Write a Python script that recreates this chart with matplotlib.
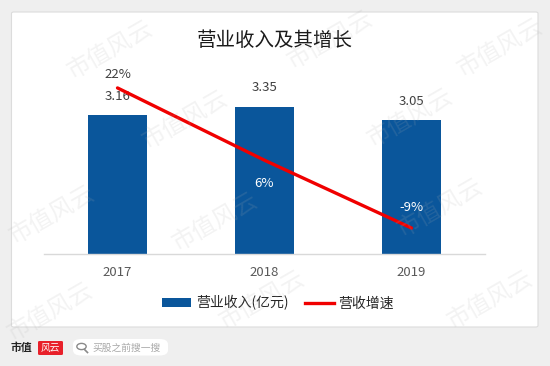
import matplotlib
matplotlib.use('Agg')
import matplotlib.pyplot as plt
from matplotlib.patches import FancyBboxPatch, Patch, Circle
from matplotlib.lines import Line2D

plt.rcParams['font.family'] = ['Noto Sans CJK SC', 'DejaVu Sans']

years = ['2017', '2018', '2019']
revenue = [3.16, 3.35, 3.05]       # 营业收入(亿元)
growth = [22, 6, -9]               # 营收增速 (%)

BLUE = '#0a569b'
RED = '#f00000'
W, H = 550, 366


def fx(px):
    return px / W


def fy(py):
    return 1 - py / H


fig = plt.figure(figsize=(5.5, 3.66), dpi=100)
fig.patch.set_facecolor('#efefef')

# white card
card = FancyBboxPatch((fx(11.5), fy(327)), fx(538) - fx(11.5), fy(12) - fy(327),
                      boxstyle='round,pad=0,rounding_size=0.004',
                      transform=fig.transFigure, facecolor='white',
                      edgecolor='#dcdcdc', linewidth=0.8, zorder=-5)
fig.patches.append(card)

# title
fig.text(fx(275), fy(41), '营业收入及其增长', fontsize=14, color='#1a1a1a',
         ha='center', va='center')

ax = fig.add_axes([fx(44), fy(254), fx(485) - fx(44), fy(78) - fy(254)])
ax.patch.set_alpha(0)
x = list(range(len(years)))
ax.bar(x, revenue, width=0.4, color=BLUE, zorder=2)
ax.set_xlim(-0.5, 2.5)
ax.set_ylim(0, 4)
ax.set_yticks([])
ax.set_xticks(x)
ax.set_xticklabels(years, fontsize=9.5, color='#595959')
ax.tick_params(axis='x', length=0, pad=9)
for s in ['top', 'left', 'right']:
    ax.spines[s].set_visible(False)
ax.spines['bottom'].set_color('#d9d9d9')
ax.spines['bottom'].set_linewidth(1)
for xi, v in zip(x, revenue):
    ax.annotate(f'{v:.2f}', (xi, v), xytext=(0, 13.5), textcoords='offset points',
                ha='center', va='center', fontsize=9.5, color='#404040')

ax2 = ax.twinx()
ax2.plot(x, growth, color=RED, linewidth=2.4, solid_capstyle='round', zorder=3)
ax2.set_ylim(-14.75, 24.2)
ax2.axis('off')
offsets = [(0, 10), (0, -17), (0, 15)]
colors = ['#404040', 'white', 'white']
for xi, g, off, c in zip(x, growth, offsets, colors):
    ax2.annotate(f'{g}%', (xi, g), xytext=off, textcoords='offset points',
                 ha='center', va='center', fontsize=9.5, color=c)

handles = [Patch(facecolor=BLUE, edgecolor='none'),
           Line2D([0], [0], color=RED, linewidth=2.4)]
fig.legend(handles, ['营业收入(亿元)', '营收增速'], loc='center',
           bbox_to_anchor=(fx(278), fy(303)), ncol=2, frameon=False,
           fontsize=10, handlelength=2.1, handleheight=0.55, handletextpad=0.3,
           columnspacing=1.2, labelcolor='#262626')

# watermarks (drawn on top, faint)
marks = [(110, 50), (330, 40), (500, 48), (185, 120), (410, 118),
         (52, 215), (215, 222), (440, 208), (50, 312), (262, 300), (490, 300)]
for mx, my in marks:
    fig.text(fx(mx), fy(my), '市值风云', fontsize=17, color='#b0b0b0', alpha=0.15,
             rotation=30, ha='center', va='center', zorder=10)

# footer logo
fig.text(fx(11), fy(347.5), '市值', fontsize=7.8, fontweight='bold', color='#222222',
         ha='left', va='center')
logo = FancyBboxPatch((fx(38), fy(355)), fx(63) - fx(38), fy(341) - fy(355),
                      boxstyle='round,pad=0,rounding_size=0.003',
                      transform=fig.transFigure, facecolor='#e8202a', edgecolor='none')
fig.patches.append(logo)
fig.text(fx(50.5), fy(348), '风云', fontsize=7, color='white', style='italic',
         ha='center', va='center')
search = FancyBboxPatch((fx(73), fy(355.5)), fx(168) - fx(73), fy(339) - fy(355.5),
                        boxstyle='round,pad=0,rounding_size=0.015',
                        transform=fig.transFigure, facecolor='white', edgecolor='none')
fig.patches.append(search)
fig.patches.append(Circle((fx(81.5), fy(346.5)), 0.0085, transform=fig.transFigure,
                          facecolor='none', edgecolor='#8a8a8a', linewidth=1))
fig.lines.append(Line2D([fx(84.5), fx(87.5)], [fy(349.5), fy(352.5)],
                        transform=fig.transFigure, color='#8a8a8a', linewidth=1.2))
fig.text(fx(92), fy(347.5), '买股之前搜一搜', fontsize=7, color='#a8a8a8',
         ha='left', va='center')

fig.savefig('out.png', dpi=100, facecolor=fig.get_facecolor())
